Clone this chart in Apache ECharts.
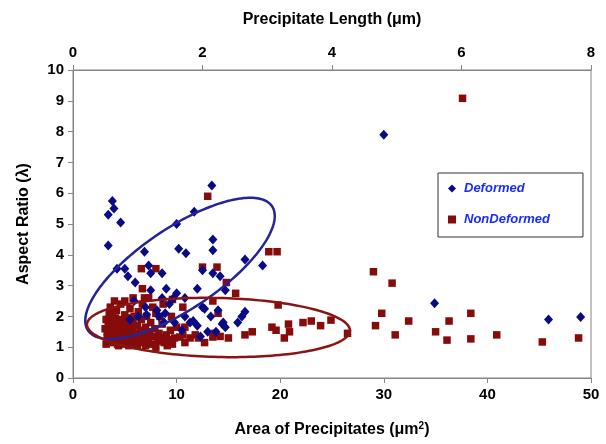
<!DOCTYPE html>
<html><head><meta charset="utf-8">
<script src="https://cdn.jsdelivr.net/npm/echarts@6/dist/echarts.min.js"></script>
<style>html,body{margin:0;padding:0;background:#fff}#c{width:606px;height:444px}</style>
</head><body><div id="c"></div>
<script>
// ---- data ----
const seriesNames = ['Deformed', 'NonDeformed'];
const xTicksArea = [0, 10, 20, 30, 40, 50];
const xTicksLength = [0, 2, 4, 6, 8];
const yTicks = [0,1,2,3,4,5,6,7,8,9,10];

const deformed = [
 [3.8,5.75],[3.95,5.5],[3.4,5.3],[4.6,5.05],[3.4,4.3],[13.4,6.25],[11.7,5.4],[10.0,5.0],
 [13.5,4.5],[13.5,4.15],[10.2,4.2],[10.9,4.05],[6.9,4.1],[4.25,3.55],[5.0,3.55],[5.3,3.3],
 [7.3,3.65],[7.5,3.4],[8.6,3.4],[12.5,3.5],[13.5,3.4],[14.2,3.3],[12.0,2.9],[7.5,2.85],
 [9.0,2.9],[10.0,2.75],[8.6,2.6],[5.9,2.5],[9.7,2.6],[7.0,2.3],[8.1,2.2],[8.9,2.1],
 [12.5,2.3],[12.7,2.25],[10.8,2.0],[11.3,1.8],[13.3,2.0],[7.1,2.05],[9.8,1.8],[13.0,1.5],
 [14.4,1.75],[12.0,1.7],[10.5,1.55],[16.6,3.85],[18.3,3.65],[14.7,2.85],[16.6,2.15],[16.3,2.0],
 [15.9,1.8],[14.5,1.8],[14.7,1.65],[10.8,2.6],[8.3,2.0],[13.8,1.5],[8.8,1.8],[11.6,1.85],
 [6.0,3.1],[9.3,2.4],[6.3,2.0],[5.5,1.9],[14.0,2.2],[12.3,1.35],
 [30.0,7.9],[34.9,2.43],[45.9,1.9],[49.0,1.98]
];

const nonDeformed = [
 // dense cluster
 [3.2,1.1],[3.3,1.3],[3.3,1.5],[3.4,1.7],[3.4,1.9],[3.5,2.1],[3.5,1.2],[3.6,1.4],[3.7,1.6],[3.7,1.8],
 [3.8,2.0],[3.9,1.15],[3.9,1.35],[4.0,1.55],[4.1,1.75],[4.1,1.95],[4.2,2.2],[4.3,1.1],[4.3,1.3],[4.4,1.5],
 [4.5,1.7],[4.5,1.9],[4.6,2.4],[4.7,1.2],[4.8,1.4],[4.8,1.6],[4.9,1.85],[5.0,2.05],[5.1,1.1],[5.2,1.3],
 [5.2,1.5],[5.3,1.75],[5.4,1.95],[5.5,2.25],[5.6,1.15],[5.6,1.4],[5.7,1.6],[5.8,1.8],[5.9,2.0],[6.0,1.25],
 [6.1,1.1],[6.1,1.45],[6.2,1.7],[6.3,2.15],[6.4,1.3],[6.5,1.55],[6.6,1.9],[6.7,2.4],[6.8,1.15],[6.9,1.4],
 [7.0,1.65],[7.1,2.0],[7.2,1.25],[7.4,1.5],[7.5,1.8],[7.6,1.1],[7.8,1.35],[7.9,1.6],[8.0,2.1],[8.2,1.2],
 [8.3,1.45],[8.5,1.3],[8.6,1.75],[8.8,1.15],[9.0,1.4],[9.2,1.25],[9.4,1.55],[9.6,1.1],[9.8,1.3],[3.6,2.3],
 [4.0,2.5],[5.0,2.5],[5.8,2.6],[4.4,1.05],[5.4,1.05],[3.1,1.6],[3.2,1.9],[4.2,1.4],[4.6,1.3],[5.0,1.65],
 [5.7,1.3],[6.6,1.2],[7.3,1.3],[6.2,1.05],[7.7,2.3],[8.7,2.4],[8.4,2.0],[9.5,2.0],[7.0,1.05],[8.0,1.0],[9.1,1.05],
 // scattered
 [13.0,5.9],[6.6,3.55],[8.0,3.55],[6.7,2.9],[12.5,3.6],[13.9,3.6],[6.9,2.6],[7.3,2.6],[9.6,2.55],[13.5,2.5],
 [10.6,2.3],[14.0,2.1],[13.7,1.45],[14.8,3.1],[15.7,2.75],[18.9,4.1],[19.7,4.1],[19.8,2.37],
 [10.0,1.65],[10.8,1.65],[10.6,1.4],[10.3,1.33],[11.3,1.3],[12.1,1.3],[13.5,1.33],[11.8,1.4],[12.7,1.15],[10.8,1.15],[14.2,1.35],
 [15.0,1.3],[16.6,1.4],[17.3,1.5],[19.2,1.65],[19.6,1.55],[20.8,1.75],[20.9,1.5],[20.4,1.3],
 [22.2,1.8],[23.0,1.85],[23.9,1.7],[24.9,1.88],[26.5,1.45],
 [29.0,3.45],[30.8,3.08],[29.8,2.1],[29.2,1.7],[31.1,1.4],[32.4,1.85],[35.0,1.5],[36.1,1.23],
 [36.3,1.85],[38.4,2.1],[38.4,1.27],[40.9,1.4],[45.3,1.17],[48.8,1.3],[37.6,9.08]
];

// ---- annotation ellipses (centre + conjugate half-axes, in data units) ----
const ellipses = [
  {c:[10.33,3.56], u:[8.88,2.016], v:[2.18,-1.09], color:'#23239a'},
  {c:[14.04,1.64], u:[12.69,-0.10], v:[0.05,0.958], color:'#8a1414'}
];

const FONT = '"Liberation Sans", Arial, sans-serif';
const chart = echarts.init(document.getElementById('c'), null, {renderer:'canvas'});
const axisLineStyle = {lineStyle:{color:'#858585', width:1}};
const lab = {color:'#000', fontWeight:'bold', fontSize:15, fontFamily:FONT};

chart.setOption({
  animation:false,
  backgroundColor:'#fff',
  grid:{left:73, top:70, width:518, height:308, show:true, borderColor:'#858585', borderWidth:1},
  legend:{
    data:[{name:seriesNames[0], icon:'diamond'},{name:seriesNames[1], icon:'rect'}],
    orient:'vertical', left:438, top:173,
    padding:[9,33,11,10], itemGap:18, itemWidth:8, itemHeight:8,
    borderColor:'#333', borderWidth:1,
    textStyle:{color:'#1a2cff', fontStyle:'italic', fontWeight:'bold', fontSize:13, fontFamily:FONT, padding:[0,0,0,3]}
  },
  xAxis:[
    {type:'value', position:'bottom', min:xTicksArea[0], max:xTicksArea[xTicksArea.length-1], interval:10,
     axisLine:axisLineStyle, axisTick:{show:true, length:5, lineStyle:{color:'#858585'}},
     axisLabel:Object.assign({margin:9}, lab), splitLine:{show:false},
     name:'{a|Area of Precipitates (μm}{s|2}{a|)}', nameLocation:'middle', nameGap:43,
     nameTextStyle:{rich:{a:{fontSize:16, fontWeight:'bold', fontFamily:FONT, color:'#000'},
                          s:{fontSize:10, fontWeight:'bold', fontFamily:FONT, color:'#000', verticalAlign:'top', padding:[0,0,8,0]}}}},
    {type:'value', position:'top', min:xTicksLength[0], max:xTicksLength[xTicksLength.length-1], interval:2,
     axisLine:axisLineStyle, axisTick:{show:true, length:5, lineStyle:{color:'#858585'}},
     axisLabel:Object.assign({margin:10}, lab), splitLine:{show:false},
     name:'Precipitate Length (μm)', nameLocation:'middle', nameGap:42,
     nameTextStyle:{fontSize:16, fontWeight:'bold', fontFamily:FONT, color:'#000'}}
  ],
  yAxis:[
    {type:'value', min:yTicks[0], max:yTicks[yTicks.length-1], interval:1,
     axisLine:{show:true, lineStyle:{color:'#858585'}}, axisTick:{show:true, length:5, lineStyle:{color:'#858585'}},
     axisLabel:Object.assign({margin:9}, lab), splitLine:{show:false},
     name:'Aspect Ratio (λ)', nameLocation:'middle', nameGap:41,
     nameTextStyle:{fontSize:16, fontWeight:'bold', fontFamily:FONT, color:'#000'}}
  ],
  series:[
    {name:seriesNames[0], type:'scatter', xAxisIndex:0, yAxisIndex:0, data:deformed, z:3,
     symbol:'diamond', symbolSize:[9,10], itemStyle:{color:'#0a0a86', opacity:1}},
    {name:seriesNames[1], type:'scatter', xAxisIndex:0, yAxisIndex:0, data:nonDeformed, z:2,
     symbol:'rect', symbolSize:7.5, itemStyle:{color:'#860b0b', opacity:1}},
    {type:'custom', xAxisIndex:0, yAxisIndex:0, silent:true, clip:false, z:5,
     data:ellipses.map((e,i)=>[e.c[0], e.c[1], i]),
     renderItem:function(params, api){
       const e = ellipses[api.value(2)];
       const pts = [];
       for(let k=0;k<=180;k++){
         const t = k/180*2*Math.PI;
         pts.push(api.coord([e.c[0]+Math.cos(t)*e.u[0]+Math.sin(t)*e.v[0],
                             e.c[1]+Math.cos(t)*e.u[1]+Math.sin(t)*e.v[1]]));
       }
       return {type:'polygon', shape:{points:pts}, style:{fill:null, stroke:e.color, lineWidth:2.5}};
     }}
  ]
});
</script>
</body></html>
